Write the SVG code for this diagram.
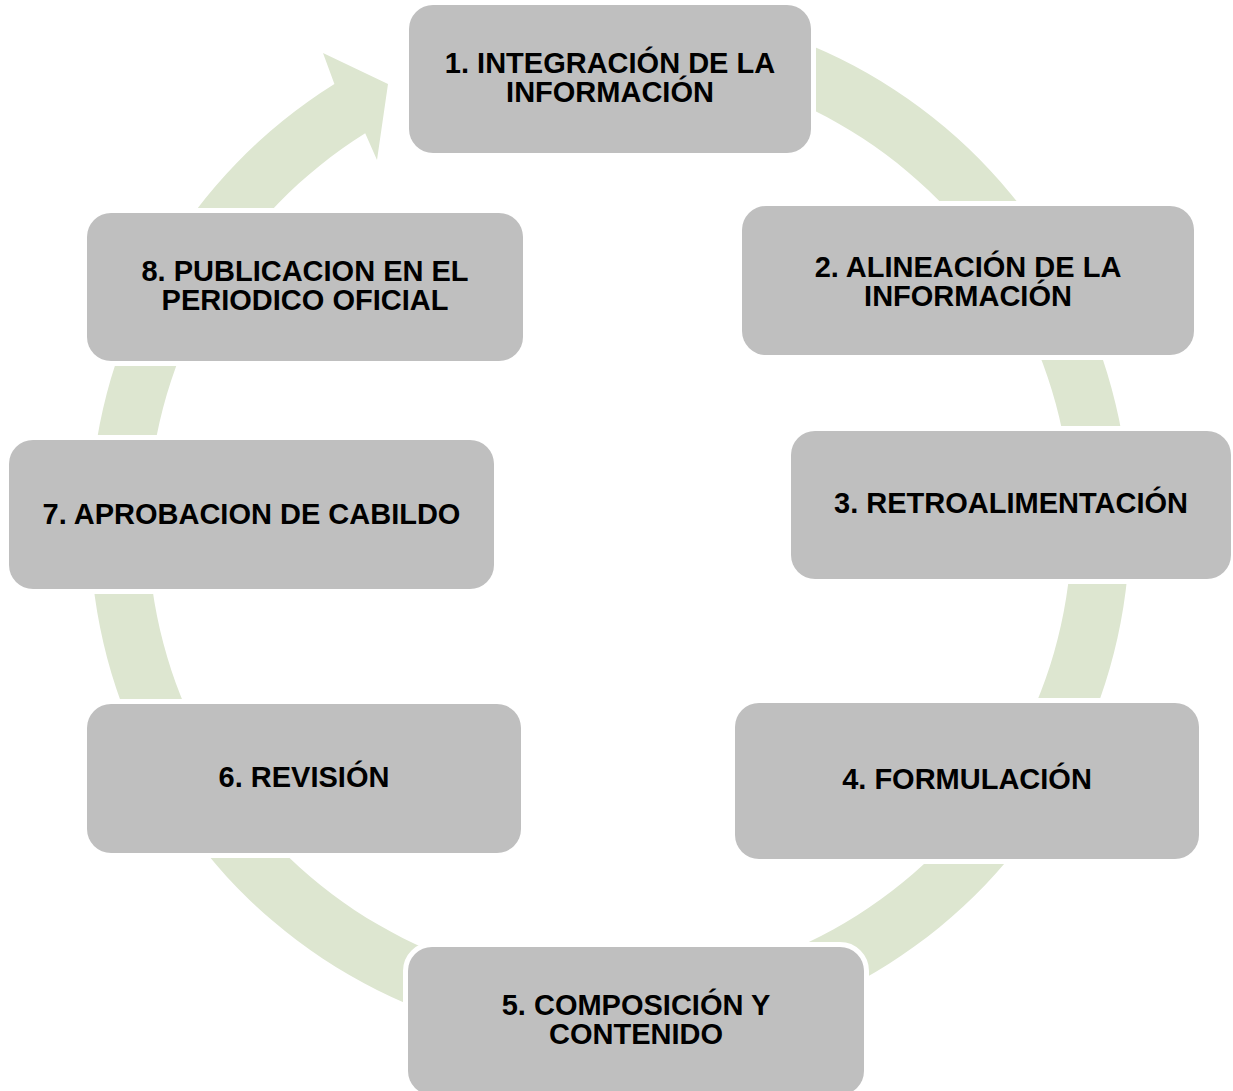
<svg xmlns="http://www.w3.org/2000/svg" width="1233" height="1091" viewBox="0 0 1233 1091">
  <style>
    .box { fill: #bfbfbf; stroke: #ffffff; stroke-width: 10; paint-order: stroke; }
    .lbl { font-family: "Liberation Sans", Arial, sans-serif; font-weight: bold; font-size: 29px; fill: #000000; text-anchor: middle; }
    .ring { fill: #dde6d0; stroke: none; }
  </style>
  <rect x="0" y="0" width="1233" height="1091" fill="#ffffff"/>
  <g id="connectors">
    <path class="ring" d="M 365.2 133.2 L 377 160 L 388 84 L 323 53 L 334.4 84 A 520 520 0 1 0 564.7 7 L 569.7 64.8 A 462 462 0 1 1 365.2 133.2 Z"/>
  </g>
  <g id="node1">
    <rect class="box" x="409" y="5" width="402" height="148" rx="24"/>
    <text class="lbl" x="610" y="73">1. INTEGRACIÓN DE LA</text>
    <text class="lbl" x="610" y="102">INFORMACIÓN</text>
  </g>
  <g id="node2">
    <rect class="box" x="742" y="206" width="452" height="149" rx="24"/>
    <text class="lbl" x="968" y="277">2. ALINEACIÓN DE LA</text>
    <text class="lbl" x="968" y="306">INFORMACIÓN</text>
  </g>
  <g id="node3">
    <rect class="box" x="791" y="431" width="440" height="148" rx="24"/>
    <text class="lbl" x="1011" y="513">3. RETROALIMENTACIÓN</text>
  </g>
  <g id="node4">
    <rect class="box" x="735" y="703" width="464" height="156" rx="24"/>
    <text class="lbl" x="967" y="789">4. FORMULACIÓN</text>
  </g>
  <g id="node5">
    <rect class="box" x="408" y="947" width="456" height="148" rx="24"/>
    <text class="lbl" x="636" y="1015">5. COMPOSICIÓN Y</text>
    <text class="lbl" x="636" y="1044">CONTENIDO</text>
  </g>
  <g id="node6">
    <rect class="box" x="87" y="704" width="434" height="149" rx="24"/>
    <text class="lbl" x="304" y="787">6. REVISIÓN</text>
  </g>
  <g id="node7">
    <rect class="box" x="9" y="440" width="485" height="149" rx="24"/>
    <text class="lbl" x="251.5" y="524">7. APROBACION DE CABILDO</text>
  </g>
  <g id="node8">
    <rect class="box" x="87" y="213" width="436" height="148" rx="24"/>
    <text class="lbl" x="305" y="281">8. PUBLICACION EN EL</text>
    <text class="lbl" x="305" y="310">PERIODICO OFICIAL</text>
  </g>
</svg>
